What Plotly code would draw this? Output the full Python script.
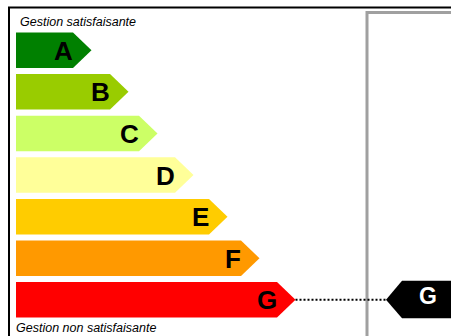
import plotly.graph_objects as go

# ---- data ----
classes = ["A", "B", "C", "D", "E", "F", "G"]
bar_ends = [73, 110, 139, 175, 209, 241, 277]   # length of each class bar (axis units)
current_class = "G"
label_top = "Gestion satisfaisante"
label_bottom = "Gestion non satisfaisante"

# ---- style ----
colors = ["#008000", "#99cc00", "#ccff66", "#ffff99", "#ffcc00", "#ff9900", "#ff0000"]
W, H = 451, 336
x0 = 16
top0 = 32.5
step = 41.6
bar_h = 35.5
tip = 18.5
LETTER_FONT = "Liberation Sans, Arial"

fig = go.Figure()

# frame
fig.add_trace(go.Scatter(x=[9, 9, 452], y=[340, 7.5, 7.5], mode="lines",
                         line=dict(color="black", width=2), hoverinfo="skip", showlegend=False))
fig.add_trace(go.Scatter(x=[367, 367, 452], y=[340, 12.5, 12.5], mode="lines",
                         line=dict(color="#a0a0a0", width=3), hoverinfo="skip", showlegend=False))

annotations = []
for i, (c, L, col) in enumerate(zip(classes, bar_ends, colors)):
    t = top0 + i * step
    b = t + bar_h
    m = (t + b) / 2
    fig.add_trace(go.Scatter(
        x=[x0, L, L + tip, L, x0, x0], y=[t, t, m, b, b, t],
        mode="lines", fill="toself", fillcolor=col, line=dict(width=0, color=col),
        hoverinfo="skip", showlegend=False))
    annotations.append(dict(x=L + 1.5, y=m + 0.5, text="<b>%s</b>" % c, showarrow=False,
                            xanchor="right", yanchor="middle",
                            font=dict(family=LETTER_FONT, size=26, color="black")))
    if c == current_class:
        mx = 386
        fig.add_trace(go.Scatter(x=[L + tip, mx], y=[m, m], mode="lines",
                                 line=dict(color="black", width=2, dash="2px,2px"),
                                 hoverinfo="skip", showlegend=False))
        fig.add_trace(go.Scatter(
            x=[mx, mx + 16, 455, 455, mx + 16, mx], y=[m, m - 19, m - 19, m + 18.5, m + 18.5, m],
            mode="lines", fill="toself", fillcolor="black", line=dict(width=0, color="black"),
            hoverinfo="skip", showlegend=False))
        annotations.append(dict(x=428, y=m - 3.5, text="<b>%s</b>" % c, showarrow=False,
                                xanchor="center", yanchor="middle",
                                font=dict(family=LETTER_FONT, size=23, color="white")))

annotations.append(dict(x=18, y=21.5, text="<i>%s</i>" % label_top, showarrow=False,
                        xanchor="left", yanchor="middle",
                        font=dict(family="Liberation Sans, Arial", size=12.5, color="black")))
annotations.append(dict(x=14, y=327.5, text="<i>%s</i>" % label_bottom, showarrow=False,
                        xanchor="left", yanchor="middle",
                        font=dict(family="Liberation Sans, Arial", size=12.5, color="black")))

fig.update_layout(
    width=W, height=H, margin=dict(l=0, r=0, t=0, b=0),
    paper_bgcolor="white", plot_bgcolor="white",
    xaxis=dict(range=[0, W], visible=False, fixedrange=True),
    yaxis=dict(range=[H, 0], visible=False, fixedrange=True),
    annotations=annotations, showlegend=False,
)

fig.write_html("out.html", config={"displayModeBar": False},
               post_script="document.body.style.margin='0';document.body.style.overflow='hidden';")
